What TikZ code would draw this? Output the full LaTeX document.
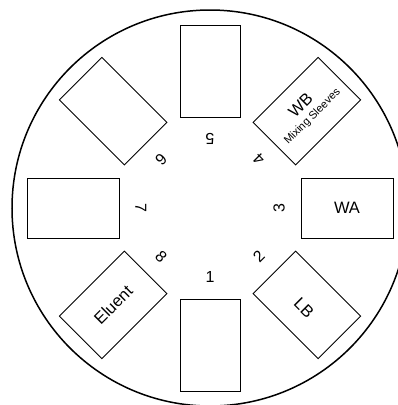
\documentclass[tikz,border=0pt]{standalone}
\usepackage{fontspec}
\setmainfont{Liberation Sans}
\usetikzlibrary{calc}
\begin{document}
\begin{tikzpicture}[x=1pt,y=-1pt,
  slot/.style={draw, line width=0.9pt, minimum width=92pt, minimum height=60pt, inner sep=0pt},
  num/.style={font=\fontsize{16}{16}\selectfont, inner sep=0pt},
  lbl/.style={font=\fontsize{16.5}{16.5}\selectfont, inner sep=0pt},
  small/.style={font=\fontsize{11}{11}\selectfont, inner sep=0pt}]
\useasboundingbox (0,0) rectangle (398,405);
\coordinate (C) at (210,208);
\draw[line width=1.5pt] (C) circle[radius=198pt];
\foreach \i in {1,...,8}{
  \pgfmathsetmacro\a{45*\i-135}
  \node[slot, rotate=\a] (s\i) at ($(C)+(\a:137pt)$) {};
  \node[num, rotate=\a+90] (n\i) at ($(C)+(\a:69pt)$) {\i};
}
\node[lbl] (wa) at (s3) {WA};
\node[lbl, rotate=45] (el) at (s8) {Eluent};
\node[lbl, rotate=-45] (lb) at ($(s2)+(-135:4pt)$) {LB};
\node[lbl, rotate=45] (wb) at ($(s4)+(135:9pt)$) {WB};
\node[small, rotate=45] (ms) at ($(s4)+(-45:8pt)$) {Mixing Sleeves};
\end{tikzpicture}
\end{document}
